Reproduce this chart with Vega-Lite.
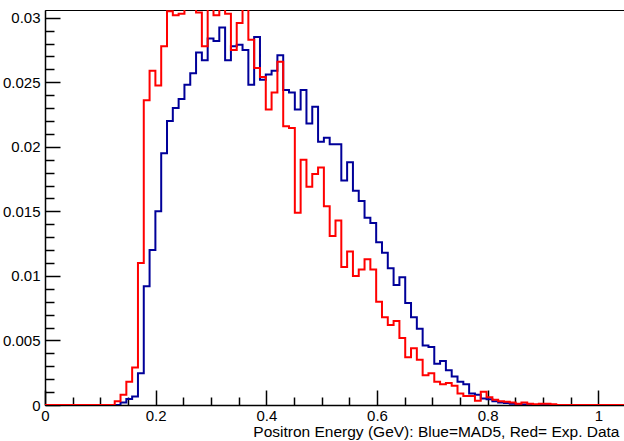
{
  "$schema": "https://vega.github.io/schema/vega-lite/v6.json",
  "width": 581,
  "height": 395,
  "autosize": "none",
  "padding": {"left": 45, "top": 10, "right": 0, "bottom": 36},
  "background": "white",
  "config": {
    "font": "Liberation Sans",
    "view": {"stroke": "black", "strokeWidth": 1},
    "axis": {
      "domainColor": "black",
      "domainWidth": 1.5,
      "tickColor": "black",
      "tickWidth": 1.5,
      "labelColor": "black",
      "labelFontSize": 15,
      "labelFont": "Liberation Sans",
      "titleFont": "Liberation Sans",
      "titleColor": "black",
      "titleFontWeight": "normal",
      "titleFontSize": 15.5,
      "grid": false,
      "labelOverlap": false,
      "labelFlush": false
    }
  },
  "datasets": {
    "hist": [
      {"e": 0, "v": 0, "s": "MAD5"},
      {"e": 0.126, "v": 0, "s": "MAD5"},
      {"e": 0.1365, "v": 0.0002, "s": "MAD5"},
      {"e": 0.147, "v": 0.00047, "s": "MAD5"},
      {"e": 0.1575, "v": 0.00065, "s": "MAD5"},
      {"e": 0.168, "v": 0.00245, "s": "MAD5"},
      {"e": 0.1785, "v": 0.0092, "s": "MAD5"},
      {"e": 0.189, "v": 0.012, "s": "MAD5"},
      {"e": 0.1995, "v": 0.015, "s": "MAD5"},
      {"e": 0.21, "v": 0.0195, "s": "MAD5"},
      {"e": 0.2205, "v": 0.022, "s": "MAD5"},
      {"e": 0.231, "v": 0.023, "s": "MAD5"},
      {"e": 0.2415, "v": 0.0237, "s": "MAD5"},
      {"e": 0.252, "v": 0.0248, "s": "MAD5"},
      {"e": 0.2625, "v": 0.0257, "s": "MAD5"},
      {"e": 0.273, "v": 0.0273, "s": "MAD5"},
      {"e": 0.2835, "v": 0.0267, "s": "MAD5"},
      {"e": 0.294, "v": 0.0284, "s": "MAD5"},
      {"e": 0.3045, "v": 0.0282, "s": "MAD5"},
      {"e": 0.315, "v": 0.02925, "s": "MAD5"},
      {"e": 0.3255, "v": 0.0267, "s": "MAD5"},
      {"e": 0.336, "v": 0.0278, "s": "MAD5"},
      {"e": 0.3465, "v": 0.0279, "s": "MAD5"},
      {"e": 0.357, "v": 0.0275, "s": "MAD5"},
      {"e": 0.3675, "v": 0.0248, "s": "MAD5"},
      {"e": 0.378, "v": 0.0285, "s": "MAD5"},
      {"e": 0.3885, "v": 0.0252, "s": "MAD5"},
      {"e": 0.399, "v": 0.0256, "s": "MAD5"},
      {"e": 0.4095, "v": 0.0259, "s": "MAD5"},
      {"e": 0.42, "v": 0.0271, "s": "MAD5"},
      {"e": 0.4305, "v": 0.0244, "s": "MAD5"},
      {"e": 0.441, "v": 0.0242, "s": "MAD5"},
      {"e": 0.4515, "v": 0.0229, "s": "MAD5"},
      {"e": 0.462, "v": 0.0244, "s": "MAD5"},
      {"e": 0.4725, "v": 0.0218, "s": "MAD5"},
      {"e": 0.483, "v": 0.0231, "s": "MAD5"},
      {"e": 0.4935, "v": 0.0204, "s": "MAD5"},
      {"e": 0.504, "v": 0.0207, "s": "MAD5"},
      {"e": 0.5145, "v": 0.0202, "s": "MAD5"},
      {"e": 0.525, "v": 0.0202, "s": "MAD5"},
      {"e": 0.5355, "v": 0.0174, "s": "MAD5"},
      {"e": 0.546, "v": 0.0188, "s": "MAD5"},
      {"e": 0.5565, "v": 0.0166, "s": "MAD5"},
      {"e": 0.567, "v": 0.0158, "s": "MAD5"},
      {"e": 0.5775, "v": 0.0145, "s": "MAD5"},
      {"e": 0.588, "v": 0.0141, "s": "MAD5"},
      {"e": 0.5985, "v": 0.0126, "s": "MAD5"},
      {"e": 0.609, "v": 0.0118, "s": "MAD5"},
      {"e": 0.6195, "v": 0.0106, "s": "MAD5"},
      {"e": 0.63, "v": 0.0093, "s": "MAD5"},
      {"e": 0.6405, "v": 0.0099, "s": "MAD5"},
      {"e": 0.651, "v": 0.0079, "s": "MAD5"},
      {"e": 0.6615, "v": 0.0068, "s": "MAD5"},
      {"e": 0.672, "v": 0.0059, "s": "MAD5"},
      {"e": 0.6825, "v": 0.0046, "s": "MAD5"},
      {"e": 0.693, "v": 0.0045, "s": "MAD5"},
      {"e": 0.7035, "v": 0.0032, "s": "MAD5"},
      {"e": 0.714, "v": 0.0034, "s": "MAD5"},
      {"e": 0.7245, "v": 0.0027, "s": "MAD5"},
      {"e": 0.735, "v": 0.0022, "s": "MAD5"},
      {"e": 0.7455, "v": 0.0018, "s": "MAD5"},
      {"e": 0.756, "v": 0.0016, "s": "MAD5"},
      {"e": 0.7665, "v": 0.0009, "s": "MAD5"},
      {"e": 0.777, "v": 0.0008, "s": "MAD5"},
      {"e": 0.7875, "v": 0.0005, "s": "MAD5"},
      {"e": 0.798, "v": 0.00045, "s": "MAD5"},
      {"e": 0.8085, "v": 0.0003, "s": "MAD5"},
      {"e": 0.819, "v": 0.0002, "s": "MAD5"},
      {"e": 0.8295, "v": 0.00015, "s": "MAD5"},
      {"e": 0.84, "v": 0.0001, "s": "MAD5"},
      {"e": 0.8505, "v": 0.00005, "s": "MAD5"},
      {"e": 0.861, "v": 0.00003, "s": "MAD5"},
      {"e": 0.8715, "v": 0, "s": "MAD5"},
      {"e": 1.05, "v": 0, "s": "MAD5"},
      {"e": 0, "v": 0, "s": "Data"},
      {"e": 0.126, "v": 0.0003, "s": "Data"},
      {"e": 0.1365, "v": 0.0008, "s": "Data"},
      {"e": 0.147, "v": 0.0018, "s": "Data"},
      {"e": 0.1575, "v": 0.0029, "s": "Data"},
      {"e": 0.168, "v": 0.011, "s": "Data"},
      {"e": 0.1785, "v": 0.0236, "s": "Data"},
      {"e": 0.189, "v": 0.0259, "s": "Data"},
      {"e": 0.1995, "v": 0.02475, "s": "Data"},
      {"e": 0.21, "v": 0.0278, "s": "Data"},
      {"e": 0.2205, "v": 0.0305, "s": "Data"},
      {"e": 0.231, "v": 0.0302, "s": "Data"},
      {"e": 0.2415, "v": 0.0303, "s": "Data"},
      {"e": 0.252, "v": 0.0318, "s": "Data"},
      {"e": 0.2625, "v": 0.032, "s": "Data"},
      {"e": 0.273, "v": 0.0304, "s": "Data"},
      {"e": 0.2835, "v": 0.0278, "s": "Data"},
      {"e": 0.294, "v": 0.0315, "s": "Data"},
      {"e": 0.3045, "v": 0.0302, "s": "Data"},
      {"e": 0.315, "v": 0.0312, "s": "Data"},
      {"e": 0.3255, "v": 0.0303, "s": "Data"},
      {"e": 0.336, "v": 0.0275, "s": "Data"},
      {"e": 0.3465, "v": 0.0296, "s": "Data"},
      {"e": 0.357, "v": 0.031, "s": "Data"},
      {"e": 0.3675, "v": 0.0283, "s": "Data"},
      {"e": 0.378, "v": 0.0261, "s": "Data"},
      {"e": 0.3885, "v": 0.0254, "s": "Data"},
      {"e": 0.399, "v": 0.0229, "s": "Data"},
      {"e": 0.4095, "v": 0.0242, "s": "Data"},
      {"e": 0.42, "v": 0.0266, "s": "Data"},
      {"e": 0.4305, "v": 0.0216, "s": "Data"},
      {"e": 0.441, "v": 0.02145, "s": "Data"},
      {"e": 0.4515, "v": 0.0149, "s": "Data"},
      {"e": 0.462, "v": 0.019, "s": "Data"},
      {"e": 0.4725, "v": 0.0169, "s": "Data"},
      {"e": 0.483, "v": 0.0179, "s": "Data"},
      {"e": 0.4935, "v": 0.0184, "s": "Data"},
      {"e": 0.504, "v": 0.0154, "s": "Data"},
      {"e": 0.5145, "v": 0.0131, "s": "Data"},
      {"e": 0.525, "v": 0.0143, "s": "Data"},
      {"e": 0.5355, "v": 0.0107, "s": "Data"},
      {"e": 0.546, "v": 0.0119, "s": "Data"},
      {"e": 0.5565, "v": 0.01, "s": "Data"},
      {"e": 0.567, "v": 0.0105, "s": "Data"},
      {"e": 0.5775, "v": 0.0113, "s": "Data"},
      {"e": 0.588, "v": 0.0105, "s": "Data"},
      {"e": 0.5985, "v": 0.008, "s": "Data"},
      {"e": 0.609, "v": 0.0068, "s": "Data"},
      {"e": 0.6195, "v": 0.0062, "s": "Data"},
      {"e": 0.63, "v": 0.0065, "s": "Data"},
      {"e": 0.6405, "v": 0.0052, "s": "Data"},
      {"e": 0.651, "v": 0.0037, "s": "Data"},
      {"e": 0.6615, "v": 0.0044, "s": "Data"},
      {"e": 0.672, "v": 0.0035, "s": "Data"},
      {"e": 0.6825, "v": 0.0023, "s": "Data"},
      {"e": 0.693, "v": 0.00245, "s": "Data"},
      {"e": 0.7035, "v": 0.0018, "s": "Data"},
      {"e": 0.714, "v": 0.0016, "s": "Data"},
      {"e": 0.7245, "v": 0.0017, "s": "Data"},
      {"e": 0.735, "v": 0.0015, "s": "Data"},
      {"e": 0.7455, "v": 0.0009, "s": "Data"},
      {"e": 0.756, "v": 0.0007, "s": "Data"},
      {"e": 0.7665, "v": 0.0007, "s": "Data"},
      {"e": 0.777, "v": 0.00033, "s": "Data"},
      {"e": 0.7875, "v": 0.00103, "s": "Data"},
      {"e": 0.798, "v": 0.0006, "s": "Data"},
      {"e": 0.8085, "v": 0.0004, "s": "Data"},
      {"e": 0.819, "v": 0.0003, "s": "Data"},
      {"e": 0.8295, "v": 0.00025, "s": "Data"},
      {"e": 0.84, "v": 0.0002, "s": "Data"},
      {"e": 0.8505, "v": 0.0001, "s": "Data"},
      {"e": 0.861, "v": 0.0002, "s": "Data"},
      {"e": 0.8715, "v": 0.0001, "s": "Data"},
      {"e": 0.882, "v": 0.00005, "s": "Data"},
      {"e": 0.8925, "v": 0.0001, "s": "Data"},
      {"e": 0.903, "v": 0.0001, "s": "Data"},
      {"e": 0.9135, "v": 0.00005, "s": "Data"},
      {"e": 0.924, "v": 0, "s": "Data"},
      {"e": 1.05, "v": 0, "s": "Data"}
    ]
  },
  "data": {"name": "hist"},
  "encoding": {
    "x": {
      "field": "e",
      "type": "quantitative",
      "scale": {"domain": [0, 1.05], "nice": false, "zero": false},
      "axis": {
        "title": "Positron Energy (GeV): Blue=MAD5, Red= Exp. Data",
        "titleAnchor": "end",
        "titleAlign": "right",
        "titleX": 574,
        "titleY": 31,
        "titleBaseline": "alphabetic",
        "values": [0, 0.05, 0.1, 0.15, 0.2, 0.25, 0.3, 0.35, 0.4, 0.45, 0.5, 0.55, 0.6, 0.65, 0.7, 0.75, 0.8, 0.85, 0.9, 0.95, 1, 1.05],
        "labelExpr": "abs(datum.value * 5 - round(datum.value * 5)) < 0.001 ? toString(round(datum.value * 10) / 10) : ''",
        "tickSize": {"condition": {"test": "abs(datum.value * 5 - round(datum.value * 5)) < 0.001", "value": -15}, "value": -8},
        "labelPadding": 18
      }
    },
    "y": {
      "field": "v",
      "type": "quantitative",
      "scale": {"domain": [0, 0.0306], "nice": false},
      "axis": {
        "title": null,
        "values": [0, 0.001, 0.002, 0.003, 0.004, 0.005, 0.006, 0.007, 0.008, 0.009, 0.01, 0.011, 0.012, 0.013, 0.014, 0.015, 0.016, 0.017, 0.018, 0.019, 0.02, 0.021, 0.022, 0.023, 0.024, 0.025, 0.026, 0.027, 0.028, 0.029, 0.03],
        "labelExpr": "abs(datum.value * 200 - round(datum.value * 200)) < 0.001 ? toString(round(datum.value * 1000) / 1000) : ''",
        "tickSize": {"condition": {"test": "abs(datum.value * 200 - round(datum.value * 200)) < 0.001", "value": -15}, "value": -9},
        "labelPadding": 20
      }
    }
  },
  "layer": [
    {
      "transform": [{"filter": "datum.s === 'MAD5'"}],
      "mark": {"type": "line", "interpolate": "step-after", "strokeWidth": 2, "color": "#000099", "clip": true}
    },
    {
      "transform": [{"filter": "datum.s === 'Data'"}],
      "mark": {"type": "line", "interpolate": "step-after", "strokeWidth": 2, "color": "#ff0000", "clip": true}
    }
  ]
}
